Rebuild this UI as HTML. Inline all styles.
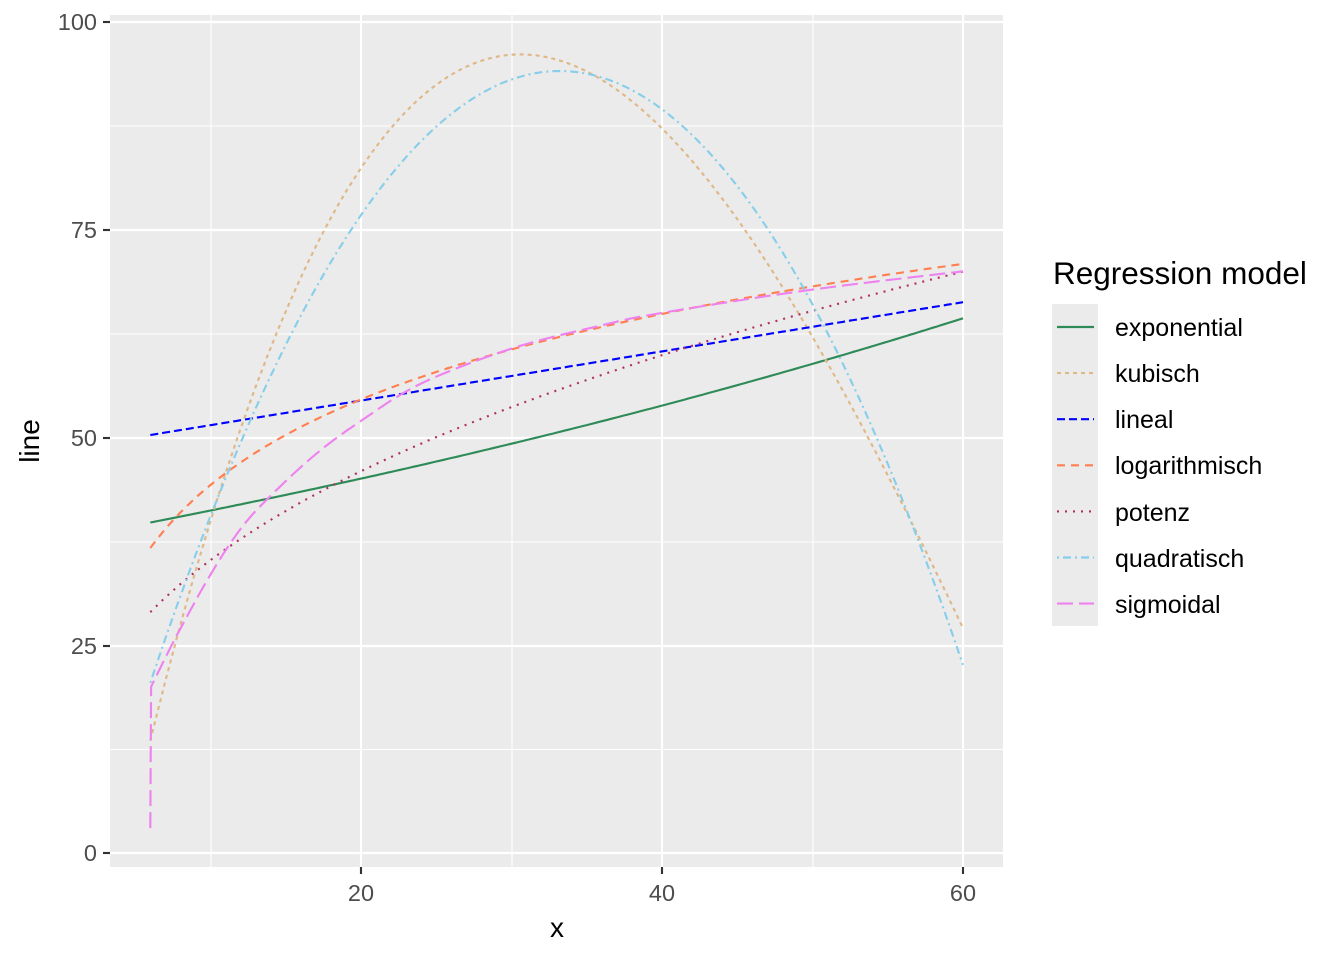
<!DOCTYPE html>
<html><head><meta charset="utf-8"><style>
html,body{margin:0;padding:0;background:#fff;}
svg{display:block;font-family:"Liberation Sans",sans-serif;}
</style></head><body>
<svg id="s" width="1344" height="960" xmlns="http://www.w3.org/2000/svg">
<rect x="0" y="0" width="1344" height="960" fill="#fff"/>
<rect x="110" y="15" width="893" height="852" fill="#EBEBEB"/>
<g stroke="#fff" stroke-width="1.07">
<line x1="110" x2="1003" y1="749.5" y2="749.5"/><line x1="110" x2="1003" y1="542" y2="542"/>
<line x1="110" x2="1003" y1="334" y2="334"/><line x1="110" x2="1003" y1="126" y2="126"/>
<line y1="15" y2="867" x1="211" x2="211"/><line y1="15" y2="867" x1="512" x2="512"/><line y1="15" y2="867" x1="813" x2="813"/>
</g>
<g stroke="#fff" stroke-width="2.13">
<line x1="110" x2="1003" y1="853" y2="853"/><line x1="110" x2="1003" y1="646" y2="646"/>
<line x1="110" x2="1003" y1="438" y2="438"/><line x1="110" x2="1003" y1="230" y2="230"/>
<line x1="110" x2="1003" y1="22" y2="22"/>
<line y1="15" y2="867" x1="361" x2="361"/><line y1="15" y2="867" x1="662" x2="662"/><line y1="15" y2="867" x1="963" x2="963"/>
</g>
<g stroke="#333" stroke-width="2.13">
<line x1="103" x2="110" y1="853" y2="853"/><line x1="103" x2="110" y1="646" y2="646"/>
<line x1="103" x2="110" y1="438" y2="438"/><line x1="103" x2="110" y1="230" y2="230"/>
<line x1="103" x2="110" y1="22" y2="22"/>
<line y1="867" y2="874" x1="361" x2="361"/><line y1="867" y2="874" x1="662" x2="662"/><line y1="867" y2="874" x1="963" x2="963"/>
</g>
<g fill="#4D4D4D" font-size="23.5" text-anchor="end">
<text x="97" y="861">0</text><text x="97" y="654">25</text><text x="97" y="446">50</text><text x="97" y="238">75</text><text x="97" y="30">100</text>
</g>
<g fill="#4D4D4D" font-size="23.5" text-anchor="middle">
<text x="361" y="901">20</text><text x="662" y="901">40</text><text x="963" y="901">60</text>
</g>
<text x="557" y="937" font-size="28" text-anchor="middle">x</text>
<text transform="translate(39,441) rotate(-90)" font-size="28" text-anchor="middle">line</text>
<g id="curves" fill="none" stroke-width="2.13"></g>
<text x="1053" y="284" font-size="31.5">Regression model</text>
<rect x="1052" y="304" width="46" height="322" fill="#EBEBEB"/>
<g id="leg" stroke-width="2.13"></g>
<g font-size="25">
<text x="1115" y="336">exponential</text><text x="1115" y="382">kubisch</text><text x="1115" y="428">lineal</text>
<text x="1115" y="474">logarithmisch</text><text x="1115" y="521">potenz</text><text x="1115" y="567">quadratisch</text>
<text x="1115" y="613">sigmoidal</text>
</g>
</svg>
<script>
var X=function(x){return 361+(x-20)*15.05;},Y=function(y){return 853-y*8.31;};
var fns=[
 ["#2E8B57","",function(x){return 37.7*Math.exp(0.00891*x);}],
 ["#DEB887","4,4",function(x){var d=x-30.6;return 96.1-0.1107*d*d+0.001049*d*d*d;}],
 ["#0000FF","8,4",function(x){return 50.3+0.296*(x-6);}],
 ["#FF7F50","8,6",function(x){return 10.09+14.85*Math.log(x);}],
 ["#B03060","2,6",function(x){return 14.6*Math.pow(x,0.3827);}],
 ["#87CEEB","2,4,8,4",function(x){var d=x-33.2;return 94.1-0.0995*d*d;}],
 ["#EE82EE","16,6",null]
];
var sig=[[6,3],[6.05,20],[7,23.5],[8,27],[10,33.5],[12,39],[14,43],[17,48],[20,52],[24,56.5],[30,60.7],[36,63.5],[40,65],[50,67.8],[60,70]];
var ns="http://www.w3.org/2000/svg",g=document.getElementById("curves"),lg=document.getElementById("leg");
fns.forEach(function(f,i){
 var pts=[];
 if(f[2]){for(var x=6;x<=60.001;x+=0.25)pts.push(X(x).toFixed(1)+","+Y(f[2](x)).toFixed(1));}
 else{
  pts.push(X(6).toFixed(1)+","+Y(3).toFixed(1));
  for(var k=1;k<sig.length-1;k++){var p0=sig[Math.max(k-1,1)],p1=sig[k],p2=sig[k+1],p3=sig[Math.min(k+2,sig.length-1)];
   for(var t=0;t<1;t+=0.1){var t2=t*t,t3=t2*t;
    var cx=0.5*((2*p1[0])+(-p0[0]+p2[0])*t+(2*p0[0]-5*p1[0]+4*p2[0]-p3[0])*t2+(-p0[0]+3*p1[0]-3*p2[0]+p3[0])*t3);
    var cy=0.5*((2*p1[1])+(-p0[1]+p2[1])*t+(2*p0[1]-5*p1[1]+4*p2[1]-p3[1])*t2+(-p0[1]+3*p1[1]-3*p2[1]+p3[1])*t3);
    pts.push(X(cx).toFixed(1)+","+Y(cy).toFixed(1));}}
  pts.push(X(60).toFixed(1)+","+Y(70).toFixed(1));
 }
 var pl=document.createElementNS(ns,"polyline");pl.setAttribute("points",pts.join(" "));
 pl.setAttribute("stroke",f[0]);if(f[1])pl.setAttribute("stroke-dasharray",f[1]);g.appendChild(pl);
 var l=document.createElementNS(ns,"line");var yy=327+i*46.1;
 l.setAttribute("x1",1057);l.setAttribute("x2",1094);l.setAttribute("y1",yy);l.setAttribute("y2",yy);
 l.setAttribute("stroke",f[0]);if(f[1])l.setAttribute("stroke-dasharray",f[1]);lg.appendChild(l);
});
</script>
</body></html>
